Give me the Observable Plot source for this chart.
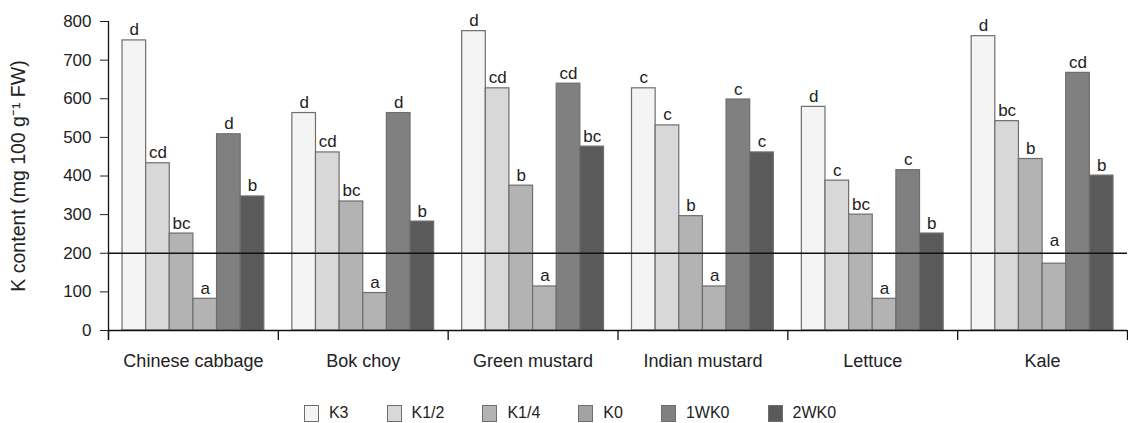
<!DOCTYPE html>
<html>
<head>
<meta charset="utf-8">
<script src="https://cdn.jsdelivr.net/npm/d3@7"></script>
<script src="https://cdn.jsdelivr.net/npm/@observablehq/plot@0.6"></script>
<style>
  html, body { margin: 0; padding: 0; background: #fff; }
  body { width: 1128px; height: 423px; overflow: hidden; font-family: "Liberation Sans", Arial, sans-serif; }
  #legend { display: flex; align-items: center; justify-content: center; padding-top: 9px; margin-left: 12px; font-size: 16px; color: #222; }
  #legend .item { display: flex; align-items: center; margin: 0 19px; }
  #legend .sw { width: 15px; height: 17px; box-sizing: border-box; border: 1.3px solid #6e6e6e; margin-right: 10px; }
</style>
</head>
<body>
<div id="chart"></div>
<div id="legend"></div>
<script>
const groups = ["Chinese cabbage", "Bok choy", "Green mustard", "Indian mustard", "Lettuce", "Kale"];
const series = ["K3", "K1/2", "K1/4", "K0", "1WK0", "2WK0"];
const barColors = ["#f3f4f3", "#d8d8d8", "#b3b3b3", "#b3b3b3", "#7f807f", "#5a5a5a"];
const legendColors = ["#f3f4f3", "#d8d8d8", "#b3b3b3", "#a3a3a3", "#7f807f", "#5a5a5a"];

// values per group, in series order
const chineseCabbage = [751, 433, 251, 82, 508, 347];
const bokChoy = [563, 461, 334, 97, 563, 282];
const greenMustard = [775, 627, 375, 114, 639, 476];
const indianMustard = [627, 531, 296, 114, 598, 461];
const lettuce = [579, 388, 300, 82, 415, 251];
const kale = [762, 542, 444, 173, 667, 401];

// significance letters per group, in series order
const lettersChineseCabbage = ["d", "cd", "bc", "a", "d", "b"];
const lettersBokChoy = ["d", "cd", "bc", "a", "d", "b"];
const lettersGreenMustard = ["d", "cd", "b", "a", "cd", "bc"];
const lettersIndianMustard = ["c", "c", "b", "a", "c", "c"];
const lettersLettuce = ["d", "c", "bc", "a", "c", "b"];
const lettersKale = ["d", "bc", "b", "a", "cd", "b"];

// letters sit at the bar top, except where the original places them higher (value units above bar)
const letterLiftKale = [0, 0, 0, 32, 0, 0];

const yTicks = [0, 100, 200, 300, 400, 500, 600, 700, 800];
const yLabel = "K content (mg 100 g\u207B\u00B9 FW)";

const values = [chineseCabbage, bokChoy, greenMustard, indianMustard, lettuce, kale];
const letters = [lettersChineseCabbage, lettersBokChoy, lettersGreenMustard, lettersIndianMustard, lettersLettuce, lettersKale];
const lifts = [null, null, null, null, null, letterLiftKale];

// layout within each group band (group i occupies [i, i+1] on x)
const pad = 0.0825;
const bw = (1 - 2 * pad) / series.length;

const rows = [];
groups.forEach((g, gi) => {
  series.forEach((s, si) => {
    const x1 = gi + pad + si * bw;
    const lift = lifts[gi] ? lifts[gi][si] : 0;
    rows.push({group: g, series: s, value: values[gi][si], letter: letters[gi][si], letterAt: values[gi][si] + lift, x1, x2: x1 + bw});
  });
});

const boundaries = d3.range(groups.length + 1);
const centers = groups.map((g, i) => ({group: g, x: i + 0.5}));

const chart = Plot.plot({
  width: 1128,
  height: 395,
  marginLeft: 108,
  marginRight: 1,
  marginTop: 21,
  marginBottom: 65,
  style: {fontFamily: "Liberation Sans, Arial, sans-serif", fontSize: "17px", color: "#222", background: "#fff"},
  x: {domain: [0, groups.length], axis: null},
  y: {
    domain: [0, 800],
    ticks: yTicks,
    tickSize: 8,
    tickPadding: 9,
    label: null
  },
  color: {domain: series, range: barColors},
  marks: [
    Plot.rectY(rows, {x1: "x1", x2: "x2", y1: 0, y2: "value", fill: "series", stroke: "#6e6e6e", strokeWidth: 1.2}),
    Plot.ruleY([0], {stroke: "#111", strokeWidth: 1.3}),
    Plot.ruleY([200], {stroke: "#111", strokeWidth: 1.3}),
    Plot.ruleX([0], {y1: -26, y2: 800, stroke: "#111", strokeWidth: 1.3}),
    Plot.ruleX(boundaries, {y1: 0, y2: -26, stroke: "#111", strokeWidth: 1.3}),
    Plot.text(rows, {x: d => (d.x1 + d.x2) / 2, y: "letterAt", text: "letter", lineAnchor: "bottom", dy: -5, fontSize: 17, fill: "#222"}),
    Plot.text(centers, {x: "x", y: 0, text: "group", dy: 31, fontSize: 18, fill: "#222"}),
    Plot.text([yLabel], {frameAnchor: "left", textAnchor: "middle", lineAnchor: "middle", rotate: -90, dx: -90, fontSize: 19.5, fill: "#222"})
  ]
});
document.getElementById("chart").appendChild(chart);

const legend = document.getElementById("legend");
series.forEach((s, i) => {
  const item = document.createElement("div");
  item.className = "item";
  const sw = document.createElement("div");
  sw.className = "sw";
  sw.style.background = legendColors[i];
  const lab = document.createElement("span");
  lab.textContent = s;
  item.appendChild(sw);
  item.appendChild(lab);
  legend.appendChild(item);
});
</script>
</body>
</html>
